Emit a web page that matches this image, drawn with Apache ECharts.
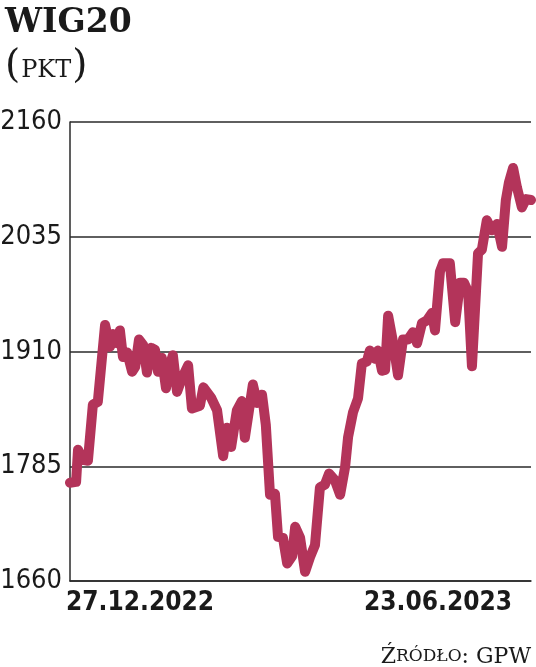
<!DOCTYPE html>
<html>
<head>
<meta charset="utf-8">
<script src="https://cdn.jsdelivr.net/npm/echarts@6/dist/echarts.min.js"></script>
<style>
html,body{margin:0;padding:0;background:#fff;}
#c{width:536px;height:667px;}
</style>
</head>
<body>
<div id="c"></div>
<script>
// trading-day position (0 = 27.12.2022, 121 = 23.06.2023)
var days = [0,1.6,2.1,3.4,4.7,6.0,7.3,9.2,10.5,11.3,12.3,13.1,13.9,15.0,16.3,17.1,18.1,19.2,20.2,21.3,
  22.3,23.1,24.1,25.2,26.2,27.0,28.1,29.4,31.0,32.0,34.1,35.0,37.0,38.6,40.2,41.2,42.3,43.8,45.1,45.9,
  48.0,49.1,50.4,51.4,52.5,53.8,54.6,55.9,57.0,58.3,59.1,60.4,61.7,63.0,64.3,65.6,66.9,68.0,69.5,70.9,
  72.2,73.0,74.3,75.6,76.6,77.9,78.7,80.1,80.8,81.9,82.7,83.5,84.8,86.1,87.4,88.7,90.0,91.1,92.4,93.7,
  95.0,95.8,97.1,97.9,99.7,101.1,102.4,103.4,104.5,105.5,107.1,108.1,109.4,110.7,112.1,113.4,114.4,115.2,116.3,117.3,
  118.6,119.7,121];
var values = [1767,1768,1803,1792,1791,1852,1855,1939,1915,1929,1919,1933,1904,1909,1888,1893,1923,1917,1887,1914,
  1912,1888,1903,1870,1895,1906,1866,1881,1895,1848,1851,1871,1860,1846,1796,1827,1806,1846,1856,1816,
  1874,1854,1863,1830,1754,1755,1708,1707,1679,1687,1719,1707,1670,1686,1699,1762,1765,1777,1770,1754,
  1784,1817,1844,1859,1897,1899,1911,1902,1911,1889,1890,1949,1920,1884,1923,1923,1931,1919,1941,1944,
  1952,1933,1997,2006,2006,1942,1985,1985,1975,1894,2017,2021,2053,2042,2049,2024,2075,2094,2110,2089,
  2067,2076,2075];
var dateLabels = ["27.12.2022","23.06.2023"];
var yTicks = [1660,1785,1910,2035,2160];

var data = days.map(function(d,i){return [d, values[i]];});
var chart = echarts.init(document.getElementById('c'), null, {renderer:'canvas'});
var narrow = "'Liberation Sans Narrow', 'DejaVu Sans Condensed', sans-serif";
chart.setOption({
  animation:false,
  backgroundColor:'#fff',
  grid:{left:70, right:5, top:122, bottom:86, containLabel:false, outerBoundsMode:'none'},
  title:[{
    text:'WIG20', left:0, top:2,
    textStyle:{fontFamily:'DejaVu Serif', fontWeight:'bold', fontSize:33, color:'#1a1a1a'}
  },{
    text:'{p|(}{t|PKT}{p|)}', left:0, top:42,
    textStyle:{fontWeight:'normal', rich:{
      p:{fontFamily:'DejaVu Serif', fontSize:39, color:'#1a1a1a', fontWeight:'normal'},
      t:{fontFamily:'DejaVu Serif', fontSize:24, color:'#1a1a1a', fontWeight:'normal', padding:[8,1,0,1]}
    }}
  },{
    text:'{b|Ź}{s|RÓDŁO}{b|: GPW}', right:0, top:641,
    textStyle:{fontWeight:'normal', rich:{
      b:{fontFamily:'DejaVu Serif', fontSize:22, color:'#1a1a1a', fontWeight:'normal'},
      s:{fontFamily:'DejaVu Serif', fontSize:17, color:'#1a1a1a', fontWeight:'normal'}
    }}
  }],
  xAxis:{
    type:'value', min:0, max:121, interval:121,
    axisLine:{show:true, lineStyle:{color:'#2a2a2a', width:1.5}},
    axisTick:{show:false},
    splitLine:{show:false},
    axisLabel:{
      show:true, margin:9,
      formatter:function(v){
        if(v===0) return '{l|'+dateLabels[0]+'}';
        if(v===121) return '{r|'+dateLabels[1]+'}';
        return '';
      },
      alignMinLabel:'left', alignMaxLabel:'right',
      rich:{
        l:{fontFamily:narrow, fontWeight:'bold', fontSize:26, color:'#1a1a1a', padding:[0,0,0,-4]},
        r:{fontFamily:narrow, fontWeight:'bold', fontSize:26, color:'#1a1a1a', padding:[0,19,0,0]}
      }
    }
  },
  yAxis:{
    type:'value', min:yTicks[0], max:yTicks[yTicks.length-1], interval:125,
    axisLine:{show:true, lineStyle:{color:'#2a2a2a', width:1.5}},
    axisTick:{show:false},
    splitLine:{show:true, lineStyle:{color:'#2a2a2a', width:1.5}},
    axisLabel:{margin:8, fontFamily:narrow, fontSize:27, color:'#1a1a1a',
      formatter:function(v){return String(v);}}
  },
  series:[{
    type:'line', data:data, showSymbol:false, symbol:'none', smooth:false,
    lineStyle:{color:'#b3345a', width:10, cap:'round', join:'round'},
    z:5
  }]
});
</script>
</body>
</html>
